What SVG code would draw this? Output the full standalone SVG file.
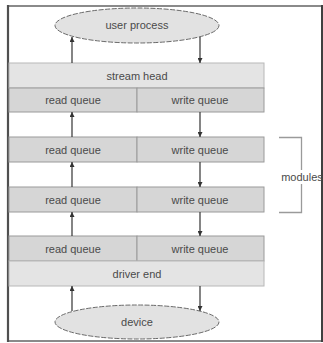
<svg xmlns="http://www.w3.org/2000/svg" width="323" height="343" viewBox="0 0 323 343">
<defs>
<marker id="ah" viewBox="0 0 6 6" refX="6" refY="3" markerWidth="5" markerHeight="5" orient="auto" markerUnits="userSpaceOnUse">
<path d="M0,0 L6,3 L0,6 z" fill="#333"/>
</marker>
<style>
.t{font-family:"Liberation Sans",Arial,sans-serif;font-size:11px;fill:#4a4a4a;text-anchor:middle;dominant-baseline:central}
.band{fill:#e4e4e4;stroke:#b8b8b8;stroke-width:1}
.q{fill:#d6d6d6;stroke:#9a9a9a;stroke-width:1}
.ell{fill:#e2e2e2;stroke:#6a6a6a;stroke-width:1;stroke-dasharray:5 1.5}
.c{stroke:#333;stroke-width:1.2;fill:none;marker-end:url(#ah)}
.br{stroke:#9a9a9a;stroke-width:1.3;fill:none}
</style>
</defs>
<rect width="323" height="343" fill="#fff"/>
<g id="frame">
<line x1="7" y1="6" x2="322" y2="6" stroke="#8a8a8a" stroke-width="2"/>
<line x1="7" y1="341" x2="322" y2="341" stroke="#8a8a8a" stroke-width="2"/>
<line x1="8" y1="5" x2="8" y2="342" stroke="#505050" stroke-width="2.2"/>
<line x1="322" y1="5" x2="322" y2="342" stroke="#404040" stroke-width="2"/>
</g>
<g id="user-process">
<ellipse class="ell" cx="137" cy="25.5" rx="82" ry="17.5"/>
<text class="t" x="137" y="25">user process</text>
</g>
<g id="stream-head">
<rect class="band" x="9" y="63" width="255" height="25"/>
<text class="t" x="137" y="76">stream head</text>
<rect class="q" x="9" y="88" width="128" height="24"/>
<rect class="q" x="137" y="88" width="127" height="24"/>
<text class="t" x="73" y="100">read queue</text>
<text class="t" x="200" y="100">write queue</text>
</g>
<g id="module-1">
<rect class="q" x="9" y="137" width="128" height="25"/>
<rect class="q" x="137" y="137" width="127" height="25"/>
<text class="t" x="73" y="149.5">read queue</text>
<text class="t" x="200" y="149.5">write queue</text>
</g>
<g id="module-2">
<rect class="q" x="9" y="187" width="128" height="25"/>
<rect class="q" x="137" y="187" width="127" height="25"/>
<text class="t" x="73" y="199.5">read queue</text>
<text class="t" x="200" y="199.5">write queue</text>
</g>
<g id="driver-end">
<rect class="q" x="9" y="236" width="128" height="25"/>
<rect class="q" x="137" y="236" width="127" height="25"/>
<text class="t" x="73" y="248.5">read queue</text>
<text class="t" x="200" y="248.5">write queue</text>
<rect class="band" x="9" y="261" width="255" height="25"/>
<text class="t" x="137" y="273.5">driver end</text>
</g>
<g id="device">
<ellipse class="ell" cx="137" cy="322" rx="82" ry="17"/>
<text class="t" x="137" y="322">device</text>
</g>
<g id="modules-bracket">
<path class="br" d="M279,137.5 H301.5 V170 M301.5,184 V212.5 H279"/>
<text class="t" x="302" y="177">modules</text>
</g>
<g id="connectors">
<line class="c" x1="72" y1="63" x2="72" y2="37"/>
<line class="c" x1="200" y1="37" x2="200" y2="63"/>
<line class="c" x1="72" y1="137" x2="72" y2="112"/>
<line class="c" x1="200" y1="112" x2="200" y2="137"/>
<line class="c" x1="72" y1="187" x2="72" y2="162"/>
<line class="c" x1="200" y1="162" x2="200" y2="187"/>
<line class="c" x1="72" y1="236" x2="72" y2="212"/>
<line class="c" x1="200" y1="212" x2="200" y2="236"/>
<line class="c" x1="72" y1="311" x2="72" y2="286"/>
<line class="c" x1="200" y1="286" x2="200" y2="311"/>
</g>
</svg>
